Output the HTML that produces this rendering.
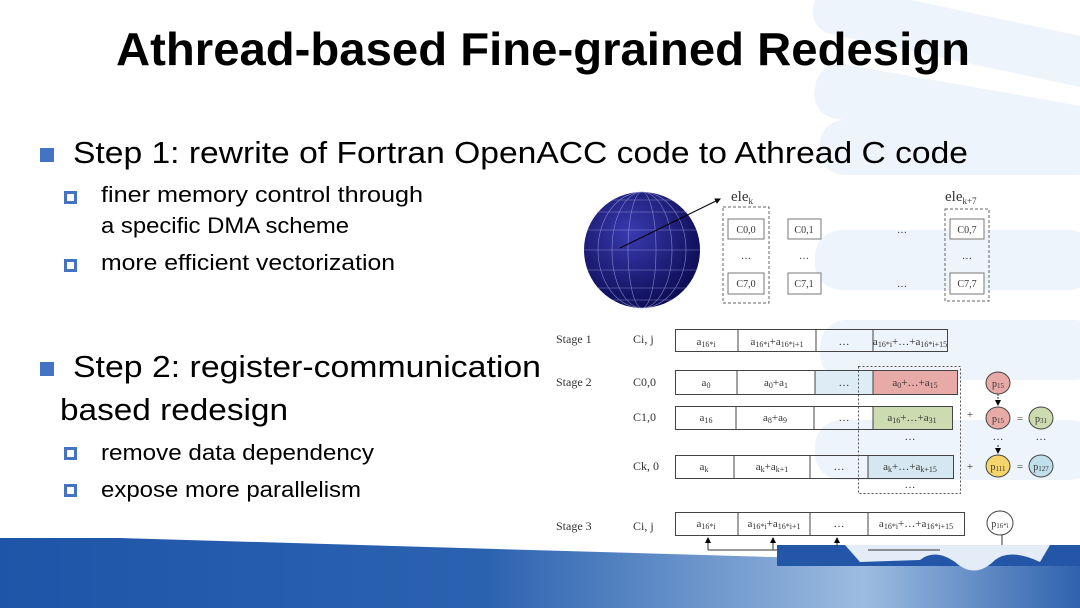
<!DOCTYPE html>
<html><head><meta charset="utf-8"><style>
html,body{margin:0;padding:0;background:#fff;}
svg{display:block;}
.m{font-family:"Liberation Sans",sans-serif;fill:#000;}
.d{font-family:"Liberation Serif",serif;fill:#333;}
</style></head><body>
<svg width="1080" height="608" viewBox="0 0 1080 608" xmlns="http://www.w3.org/2000/svg">
<defs>
<linearGradient id="band" x1="0" y1="0" x2="1" y2="0">
<stop offset="0" stop-color="#1f55a8"/><stop offset="0.45" stop-color="#2b62b0"/><stop offset="0.8" stop-color="#9dbce0"/><stop offset="1" stop-color="#2f62ae"/>
</linearGradient>
<radialGradient id="globe" cx="0.4" cy="0.35" r="0.7"><stop offset="0" stop-color="#3a3ab0"/><stop offset="1" stop-color="#0a0a50"/></radialGradient>
<marker id="ar" markerWidth="6" markerHeight="6" refX="5" refY="3" orient="auto"><path d="M0,0 L6,3 L0,6z" fill="#000"/></marker>
</defs>
<g fill="#eef4fb">
<rect x="815" y="-20" width="300" height="50" rx="22" transform="rotate(12 815 0)"/>
<rect x="820" y="60" width="300" height="55" rx="24" transform="rotate(10 820 60)"/>
<rect x="820" y="120" width="280" height="55" rx="24"/>
<rect x="815" y="230" width="280" height="60" rx="26"/>
<rect x="820" y="320" width="280" height="60" rx="26"/>
<rect x="815" y="420" width="280" height="60" rx="26"/>
</g>
<polygon points="0,538 120,538 1080,566 1080,608 0,608" fill="url(#band)"/>
<polygon points="777,545 1080,545 1080,566 777,566" fill="#2456a8"/>
<path d="M845,545 L1050,545 L1040,562 Q1010,548 995,560 Q975,580 955,562 Q935,548 920,560 L860,562 Z" fill="#e4edf7"/>

<text class="m" x="116" y="65" font-size="46" font-weight="bold" textLength="854" lengthAdjust="spacingAndGlyphs">Athread-based Fine-grained Redesign</text>

<rect x="40" y="148" width="14" height="14" fill="#4472c4"/>
<text class="m" x="73" y="163" font-size="31" textLength="895" lengthAdjust="spacingAndGlyphs">Step 1: rewrite of Fortran OpenACC code to Athread C code</text>
<rect x="65.5" y="192.5" width="10" height="10" fill="none" stroke="#4472c4" stroke-width="3"/>
<text class="m" x="101" y="202" font-size="22" textLength="322" lengthAdjust="spacingAndGlyphs">finer memory control through</text>
<text class="m" x="101" y="233" font-size="22" textLength="248" lengthAdjust="spacingAndGlyphs">a specific DMA scheme</text>
<rect x="65.5" y="260.5" width="10" height="10" fill="none" stroke="#4472c4" stroke-width="3"/>
<text class="m" x="101" y="270" font-size="22" textLength="294" lengthAdjust="spacingAndGlyphs">more efficient vectorization</text>

<rect x="40" y="362" width="14" height="14" fill="#4472c4"/>
<text class="m" x="73" y="377" font-size="31" textLength="468" lengthAdjust="spacingAndGlyphs">Step 2: register-communication</text>
<text class="m" x="60" y="420" font-size="31" textLength="228" lengthAdjust="spacingAndGlyphs">based redesign</text>
<rect x="65.5" y="448.5" width="10" height="10" fill="none" stroke="#4472c4" stroke-width="3"/>
<text class="m" x="101" y="460" font-size="22" textLength="273" lengthAdjust="spacingAndGlyphs">remove data dependency</text>
<rect x="65.5" y="485.5" width="10" height="10" fill="none" stroke="#4472c4" stroke-width="3"/>
<text class="m" x="101" y="497" font-size="22" textLength="260" lengthAdjust="spacingAndGlyphs">expose more parallelism</text>

<circle cx="642" cy="250" r="58" fill="url(#globe)"/>
<g stroke="#9aa0e0" stroke-width="0.6" fill="none" opacity="0.8">
<ellipse cx="642" cy="250" rx="14" ry="58"/><ellipse cx="642" cy="250" rx="30" ry="58"/><ellipse cx="642" cy="250" rx="44" ry="58"/>
<line x1="584" y1="250" x2="700" y2="250"/><line x1="588" y1="230" x2="696" y2="230"/><line x1="588" y1="270" x2="696" y2="270"/>
<line x1="597" y1="212" x2="687" y2="212"/><line x1="597" y1="288" x2="687" y2="288"/><line x1="612" y1="200" x2="672" y2="200"/><line x1="612" y1="300" x2="672" y2="300"/>
</g>
<line x1="620" y1="248" x2="720" y2="199" stroke="#000" stroke-width="1" marker-end="url(#ar)"/>

<g class="d">
<text x="731" y="201" font-size="15">ele<tspan font-size="9" dy="3">k</tspan></text>
<text x="945" y="201" font-size="15">ele<tspan font-size="9" dy="3">k+7</tspan></text>
</g>
<g fill="none" stroke="#666" stroke-dasharray="3,2">
<rect x="723" y="207" width="46" height="96"/><rect x="945" y="209" width="44" height="92"/>
</g>
<g fill="#fff" stroke="#777">
<rect x="728" y="219" width="36" height="20"/><rect x="728" y="273" width="36" height="21"/>
<rect x="788" y="219" width="33" height="20"/><rect x="788" y="273" width="33" height="21"/>
<rect x="950" y="219" width="34" height="20"/><rect x="950" y="273" width="34" height="21"/>
</g>
<g class="d" font-size="10" text-anchor="middle">
<text x="746" y="233">C0,0</text><text x="746" y="287">C7,0</text>
<text x="804" y="233">C0,1</text><text x="804" y="287">C7,1</text>
<text x="967" y="233">C0,7</text><text x="967" y="287">C7,7</text>
<text x="746" y="259">…</text><text x="804" y="259">…</text><text x="967" y="259">…</text>
<text x="902" y="233">…</text><text x="902" y="287">…</text>
</g>

<g class="d" font-size="12">
<text x="556" y="343">Stage 1</text><text x="633" y="343">Ci, j</text>
<text x="556" y="386">Stage 2</text><text x="633" y="386">C0,0</text>
<text x="633" y="421">C1,0</text><text x="633" y="470">Ck, 0</text>
<text x="556" y="530">Stage 3</text><text x="633" y="530">Ci, j</text>
</g>
<rect x="815" y="370" width="58" height="24" fill="#deecf6"/>
<rect x="873" y="370" width="84" height="24" fill="#e8aaa6"/>
<rect x="873" y="406" width="79" height="23" fill="#cddcb0"/>
<rect x="868" y="455" width="85" height="23" fill="#d5e7f0"/>
<rect x="675.5" y="512.5" width="289" height="23" fill="#fff"/>
<g fill="none" stroke="#444">
<rect x="675.5" y="329.5" width="272" height="22"/><path d="M738 329v22M816 329v22M873 329v22"/>
<rect x="675.5" y="370.5" width="282" height="24"/><path d="M737 370v24M815 370v24M873 370v24"/>
<rect x="675.5" y="406.5" width="277" height="23"/><path d="M736 406v23M814 406v23M873 406v23"/>
<rect x="675.5" y="455.5" width="278" height="23"/><path d="M734 455v23M810 455v23M868 455v23"/>
<rect x="675.5" y="512.5" width="289" height="23"/><path d="M738 512v23M810 512v23M868 512v23"/>
</g>
<rect x="858.5" y="366.5" width="102" height="127" fill="none" stroke="#555" stroke-dasharray="2,2"/>
<g class="d" font-size="11" text-anchor="middle">
<text x="706" y="345">a<tspan font-size="8" dy="2">16*i</tspan></text>
<text x="777" y="345">a<tspan font-size="8" dy="2">16*i</tspan><tspan dy="-2">+a</tspan><tspan font-size="8" dy="2">16*i+1</tspan></text>
<text x="844" y="345">…</text>
<text x="910" y="345">a<tspan font-size="8" dy="2">16*i</tspan><tspan dy="-2">+…+a</tspan><tspan font-size="8" dy="2">16*i+15</tspan></text>
<text x="706" y="386">a<tspan font-size="8" dy="2">0</tspan></text>
<text x="776" y="386">a<tspan font-size="8" dy="2">0</tspan><tspan dy="-2">+a</tspan><tspan font-size="8" dy="2">1</tspan></text>
<text x="844" y="386">…</text>
<text x="915" y="386">a<tspan font-size="8" dy="2">0</tspan><tspan dy="-2">+…+a</tspan><tspan font-size="8" dy="2">15</tspan></text>
<text x="706" y="421">a<tspan font-size="8" dy="2">16</tspan></text>
<text x="775" y="421">a<tspan font-size="8" dy="2">8</tspan><tspan dy="-2">+a</tspan><tspan font-size="8" dy="2">9</tspan></text>
<text x="844" y="421">…</text>
<text x="912" y="421">a<tspan font-size="8" dy="2">16</tspan><tspan dy="-2">+…+a</tspan><tspan font-size="8" dy="2">31</tspan></text>
<text x="910" y="440">…</text>
<text x="704" y="470">a<tspan font-size="8" dy="2">k</tspan></text>
<text x="772" y="470">a<tspan font-size="8" dy="2">k</tspan><tspan dy="-2">+a</tspan><tspan font-size="8" dy="2">k+1</tspan></text>
<text x="839" y="470">…</text>
<text x="910" y="470">a<tspan font-size="8" dy="2">k</tspan><tspan dy="-2">+…+a</tspan><tspan font-size="8" dy="2">k+15</tspan></text>
<text x="910" y="488">…</text>
<text x="706" y="527">a<tspan font-size="8" dy="2">16*i</tspan></text>
<text x="774" y="527">a<tspan font-size="8" dy="2">16*i</tspan><tspan dy="-2">+a</tspan><tspan font-size="8" dy="2">16*i+1</tspan></text>
<text x="839" y="527">…</text>
<text x="916" y="527">a<tspan font-size="8" dy="2">16*i</tspan><tspan dy="-2">+…+a</tspan><tspan font-size="8" dy="2">16*i+15</tspan></text>
<text x="970" y="418">+</text><text x="970" y="470">+</text>
<text x="1020" y="422">=</text><text x="1020" y="470">=</text>
<text x="998" y="440">…</text><text x="1041" y="440">…</text>
</g>
<g stroke="#444">
<ellipse cx="998" cy="383" rx="12" ry="11" fill="#e8aaa6"/>
<ellipse cx="998" cy="418" rx="12" ry="11" fill="#e8aaa6"/>
<ellipse cx="1041" cy="418" rx="12" ry="11" fill="#cddcb0"/>
<ellipse cx="998" cy="466" rx="12" ry="11" fill="#f5d56a"/>
<ellipse cx="1041" cy="466" rx="12" ry="11" fill="#bfe0ea"/>
<ellipse cx="1000" cy="523" rx="13" ry="12" fill="#fff"/>
</g>
<g class="d" font-size="10" text-anchor="middle">
<text x="998" y="387">p<tspan font-size="7" dy="1">15</tspan></text>
<text x="998" y="422">p<tspan font-size="7" dy="1">15</tspan></text>
<text x="1041" y="422">p<tspan font-size="7" dy="1">31</tspan></text>
<text x="998" y="470">p<tspan font-size="7" dy="1">111</tspan></text>
<text x="1041" y="470">p<tspan font-size="7" dy="1">127</tspan></text>
<text x="1000" y="527">p<tspan font-size="7" dy="1">16*i</tspan></text>
</g>
<g stroke="#333" fill="none">
<line x1="998" y1="394" x2="998" y2="405" stroke-dasharray="2,1" marker-end="url(#ar)"/>
<line x1="998" y1="445" x2="998" y2="453" stroke-dasharray="2,1" marker-end="url(#ar)"/>
<line x1="708" y1="550" x2="708" y2="538" marker-end="url(#ar)"/>
<line x1="773" y1="550" x2="773" y2="538" marker-end="url(#ar)"/>
<line x1="837" y1="546" x2="837" y2="538" marker-end="url(#ar)"/>
<path d="M708 550H777"/><path d="M868 550H940"/><path d="M1002 535V545"/>
</g>
</svg>
</body></html>
